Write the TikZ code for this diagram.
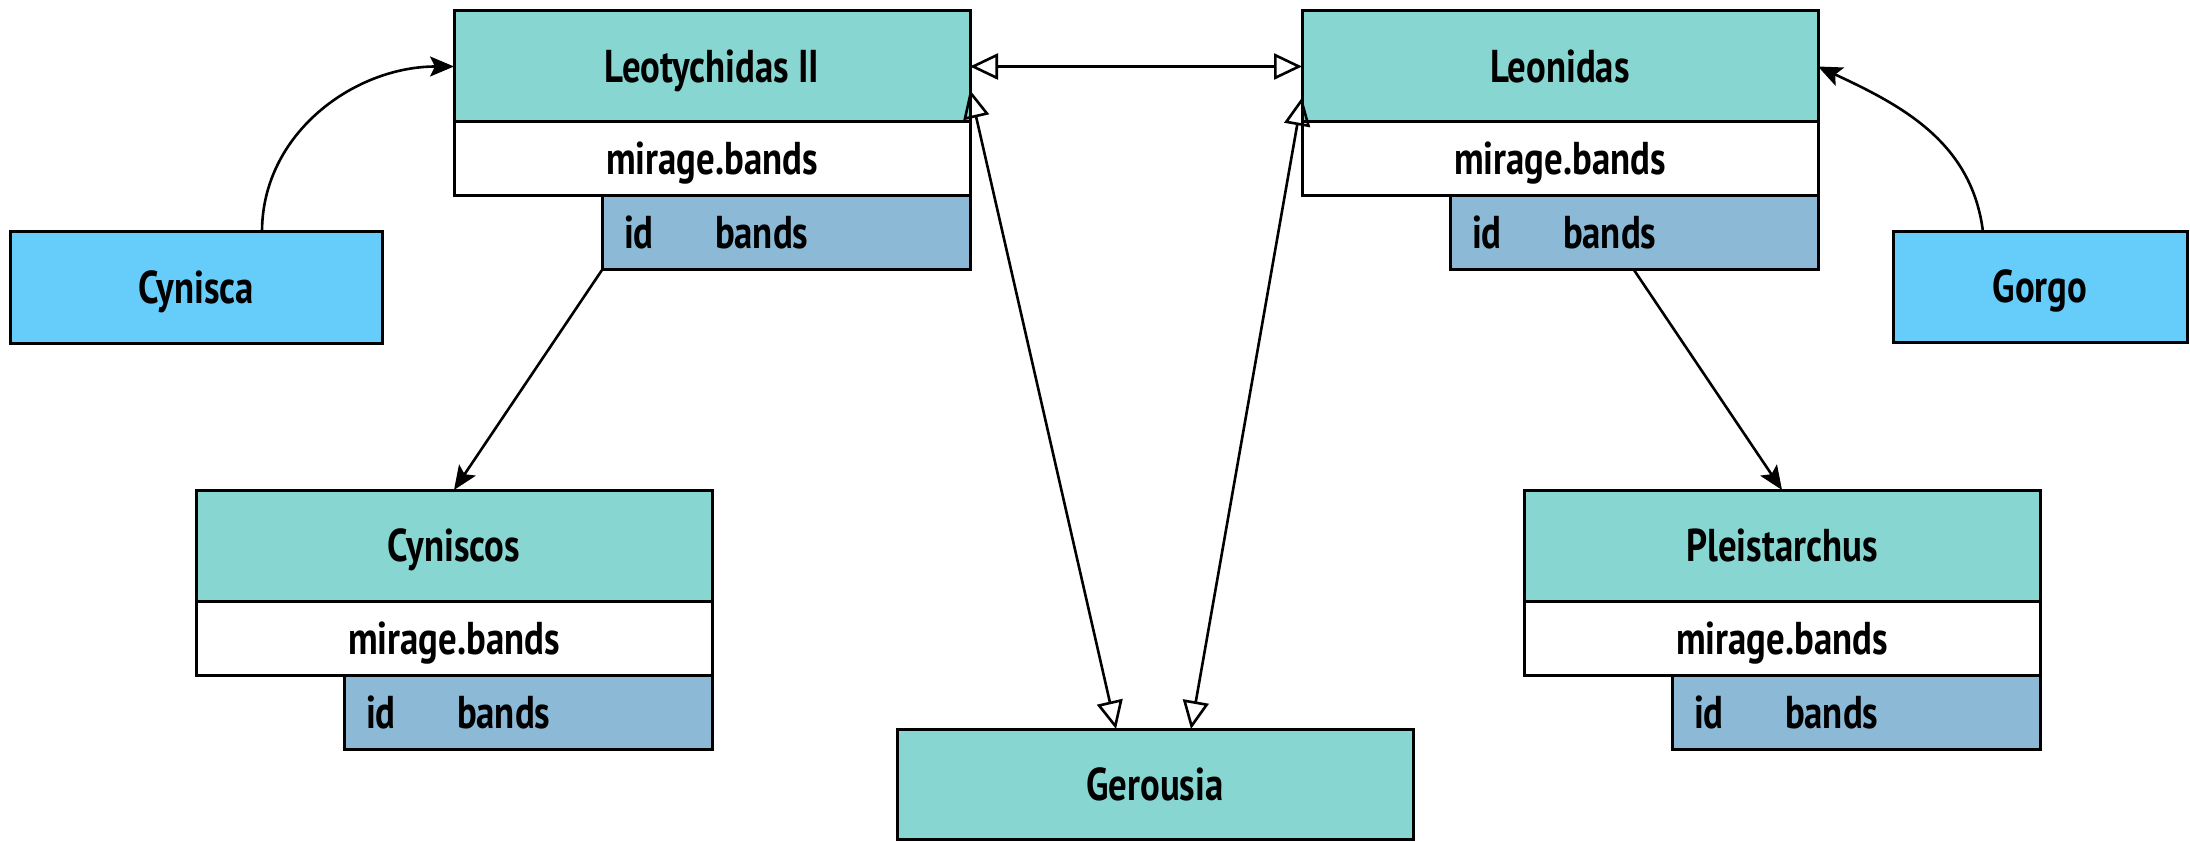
\documentclass[tikz,border=0pt]{standalone}
\usepackage{fontspec}
\setmainfont{PT Sans}[FakeStretch=0.8]
\usetikzlibrary{arrows.meta,calc}
\definecolor{hdrc}{RGB}{135,214,209}
\definecolor{idc}{RGB}{139,185,214}
\definecolor{cyanc}{RGB}{102,204,250}
\tikzset{
  box/.style={draw=black, line width=3pt, inner sep=0pt, outer sep=0pt, text height=32pt, text depth=0pt, font=\fontsize{46}{54}\selectfont\bfseries},
  hdr/.style={box, fill=hdrc, minimum width=516pt, minimum height=111pt, anchor=north west},
  subbox/.style={box, fill=white, minimum width=516pt, minimum height=74pt, anchor=north west},
  idb/.style={box, fill=idc, minimum width=368pt, minimum height=74pt, anchor=north east},
  person/.style={box, fill=cyanc, minimum height=111pt, anchor=north west},
  lbl/.style={inner sep=0pt, outer sep=0pt, anchor=west, text height=32pt, text depth=0pt, font=\fontsize{46}{54}\selectfont\bfseries},
  con/.style={line width=2.6pt, draw=black},
  fa/.style={-{Stealth[length=24pt,width=20pt,inset=5pt]}},
  oa/.style={{Triangle[open,length=28pt,width=26pt]}-{Triangle[open,length=28pt,width=26pt]}}
}
\begin{document}
\begin{tikzpicture}[x=1pt,y=-1pt]
\useasboundingbox (0,0) rectangle (2190,842);
% Leotychidas II
\node[hdr] (leo) at (454,11) {Leotychidas II};
\node[subbox] (leosub) at (leo.south west) {mirage.bands};
\node[idb] (leoid) at (leosub.south east) {};
\node[lbl] (leoidt) at ([xshift=22pt]leoid.west) {id};
\node[lbl] (leobt) at ([xshift=113pt]leoid.west) {bands};
% Leonidas
\node[hdr] (leon) at (1302,11) {Leonidas};
\node[subbox] (leonsub) at (leon.south west) {mirage.bands};
\node[idb] (leonid) at (leonsub.south east) {};
\node[lbl] (leonidt) at ([xshift=22pt]leonid.west) {id};
\node[lbl] (leonbt) at ([xshift=113pt]leonid.west) {bands};
% Cyniscos
\node[hdr] (cyns) at (196,490) {Cyniscos};
\node[subbox] (cynssub) at (cyns.south west) {mirage.bands};
\node[idb] (cynsid) at (cynssub.south east) {};
\node[lbl] (cynsidt) at ([xshift=22pt]cynsid.west) {id};
\node[lbl] (cynsbt) at ([xshift=113pt]cynsid.west) {bands};
% Pleistarchus
\node[hdr] (pleis) at (1524,490) {Pleistarchus};
\node[subbox] (pleissub) at (pleis.south west) {mirage.bands};
\node[idb] (pleisid) at (pleissub.south east) {};
\node[lbl] (pleisidt) at ([xshift=22pt]pleisid.west) {id};
\node[lbl] (pleisbt) at ([xshift=113pt]pleisid.west) {bands};
% Gerousia
\node[hdr, minimum height=110pt] (ger) at (897,729) {Gerousia};
% Cynisca, Gorgo
\node[person, minimum width=372pt] (cyn) at (10,232) {Cynisca};
\node[person, minimum width=294pt, minimum height=110pt] (gorgo) at (1893,232) {Gorgo};
% connectors
\draw[con, fa] ([xshift=66pt]cyn.north) to[out=90,in=180] (leo.west);
\draw[con, fa] ([xshift=-57pt]gorgo.north) to[out=97,in=-25] (leon.east);
\draw[con, fa] (leoid.south west) -- (cyns.north);
\draw[con, fa] (leonid.south) -- (pleis.north);
\draw[con, oa] (leo.east) -- (leon.west);
\draw[con, oa] ([yshift=-23.5pt]leo.east) -- ([xshift=-39pt]ger.north);
\draw[con, oa] ([yshift=-31pt]leon.west) -- ([xshift=36pt]ger.north);
\end{tikzpicture}
\end{document}
